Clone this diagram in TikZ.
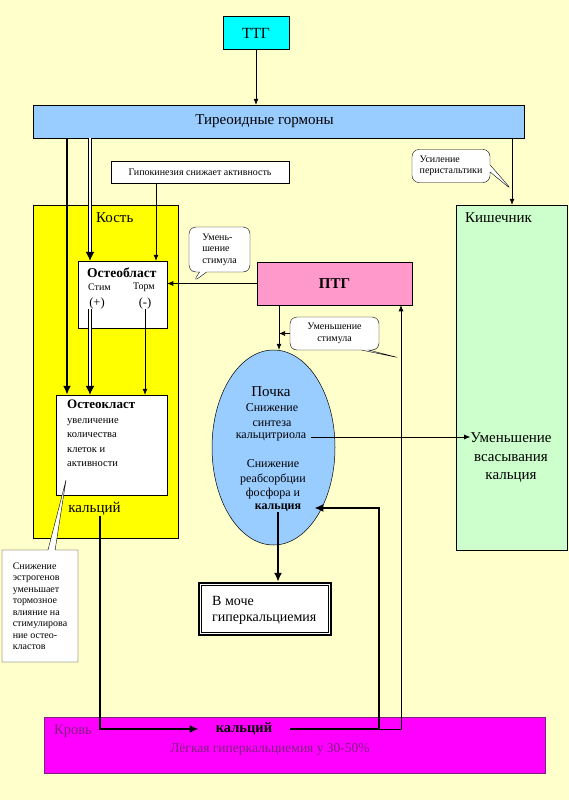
\documentclass[tikz,border=0pt]{standalone}
\usepackage{fontspec}
\setmainfont{Liberation Serif}
\usetikzlibrary{shapes.geometric,shapes.callouts,arrows.meta}

\definecolor{bgyellow}{RGB}{255,255,204}
\definecolor{ttgcyan}{RGB}{0,255,255}
\definecolor{hormblue}{RGB}{153,204,255}
\definecolor{boneyellow}{RGB}{255,255,0}
\definecolor{gutgreen}{RGB}{204,255,204}
\definecolor{ptgpink}{RGB}{255,153,204}
\definecolor{bloodmag}{RGB}{255,0,255}
\definecolor{bloodtext}{RGB}{130,30,130}

\newcommand{\fs}[2]{\fontsize{#1}{#2}\selectfont}

\begin{document}
\begin{tikzpicture}[x=1pt,y=-1pt,
    panel/.style={draw, line width=0.5pt, inner sep=0pt},
    lbl/.style={inner sep=0pt, font=\fs{15}{17}},
    note/.style={rectangle callout, draw, fill=white, rounded corners=7pt,
      inner sep=2pt, font=\fs{10}{11.5}},
    arr/.style={-{Latex[length=6pt,width=5pt]}, line width=0.6pt},
    bigarr/.style={-{Latex[length=9pt,width=8pt]}, line width=2.4pt},
    dblarr/.style={double, double distance=1.6pt, line width=1pt,
      -{Latex[length=9pt,width=9pt]}}]
                % background sheet
                \fill[bgyellow] (0,0) rectangle (569,800);

                % top: TTG and thyroid hormones
                \node[panel, fill=ttgcyan, minimum width=66pt, minimum height=33pt, font=\fs{15.5}{17}] (ttg) at (256,33) {ТТГ};
                \node[panel, fill=hormblue, minimum width=491pt, minimum height=33pt] (horm) at (278.5,121.5) {};
                \node[lbl] (hormname) at (264.5,121) {Тиреоидные гормоны};
                \node[panel, fill=white, minimum width=178pt, minimum height=22pt, font=\fs{10}{12}] (hypo) at (200,172) {Гипокинезия снижает активность};

                % bone and intestine
                \node[panel, fill=boneyellow, minimum width=145pt, minimum height=333pt] (bone) at (105.5,371.5) {};
                \node[lbl, anchor=west] (bonename) at (96,218) {Кость};
                \node[panel, fill=gutgreen, minimum width=111pt, minimum height=345pt] (gut) at (512,377.5) {};
                \node[lbl, anchor=west] (gutname) at (465,218) {Кишечник};
                \node[lbl, align=center, font=\fs{15}{18.5}] (gutabs) at (511,458) {Уменьшение\\всасывания\\кальция};

                % osteoblast
                \node[panel, fill=white, minimum width=89pt, minimum height=67pt] (oblast) at (122.5,294.5) {};
                \node[lbl, anchor=west, font=\bfseries\fs{13.5}{15}] (oblastname) at (87,273) {Остеобласт};
                \node[lbl, anchor=west, font=\fs{10}{11}] (stim) at (88,287) {Стим};
                \node[lbl, anchor=west, font=\fs{10}{11}] (torm) at (133,287) {Торм};
                \node[lbl, font=\fs{12.5}{13}] (plus) at (97,303) {(+)};
                \node[lbl, font=\fs{12.5}{13}] (minus) at (145,303) {(-)};

                % osteoclast
                \node[panel, fill=white, minimum width=111pt, minimum height=100pt] (oclast) at (111.5,445) {};
                \node[lbl, anchor=north west, align=left, font=\fs{10.5}{14.5}] (oclasttext) at (67,400) {{\bfseries\fs{13}{14.5}Остеокласт}\\увеличение\\количества\\клеток и\\активности};
                \node[lbl] (bonecal) at (94.5,509) {кальций};

                % PTG
                \node[panel, fill=ptgpink, minimum width=155pt, minimum height=43pt, font=\bfseries\fs{15}{17}] (ptg) at (334.5,283.5) {ПТГ};

                % kidney
                \node[ellipse, draw, line width=0.5pt, fill=hormblue, minimum width=123pt, minimum height=195pt, inner sep=0pt] (kidney) at (273.5,447.5) {};
                \node[lbl, font=\fs{15}{17}] (kname) at (271,392) {Почка};
                \node[lbl, align=center, font=\fs{12}{14.5}] (ksynth) at (272,415) {Снижение\\синтеза};
                \node[lbl, font=\fs{12}{14.5}] (kcalc) at (271,437) {кальцитриола};
                \node[lbl, align=center, font=\fs{12}{14.5}] (kreab) at (273,479.5) {Снижение\\реабсорбции\\фосфора и};
                \node[lbl, font=\bfseries\fs{12}{14.5}] (kcal) at (278,508) {кальция};

                % urine
                \node[panel, fill=white, line width=2.4pt, minimum width=132pt, minimum height=52pt] (urine) at (265,609) {};
                \draw[line width=0.5pt] ([shift={(3.5,3.5)}]urine.north west) rectangle ([shift={(-3.5,-3.5)}]urine.south east);
                \node[lbl, anchor=west, align=left, font=\fs{14}{16}] (urinetext) at (212,610) {В моче\\гиперкальциемия};

                % blood
                \node[panel, draw=bloodtext, fill=bloodmag, minimum width=501pt, minimum height=56pt] (blood) at (294.5,745) {};
                \node[lbl, anchor=west, text=bloodtext, font=\fs{14.5}{16}] (bloodname) at (54,731) {Кровь};
                \node[lbl, font=\bfseries\fs{14.5}{16}] (bloodcal) at (244,729) {кальций};
                \node[lbl, text=bloodtext, font=\fs{13.5}{15}] (bloodhyper) at (270,749) {Лёгкая гиперкальциемия у 30-50\%};

                % callouts
                \node[note, align=left, minimum width=61pt, minimum height=45pt, callout absolute pointer={(193,282)}] (stimnote1) at (219.5,249.5) {Умень-\\шение\\стимула};
                \node[note, align=center, minimum width=89pt, minimum height=33pt, callout absolute pointer={(400,358)}] (stimnote2) at (334.5,333.5) {Уменьшение\\стимула};
                \node[note, align=left, minimum width=78pt, minimum height=33pt, callout absolute pointer={(512,190)}] (peristnote) at (451,166) {Усиление\\перистальтики};
                \node[rectangle callout, draw, fill=white, align=left, font=\fs{10}{11.5}, minimum width=76pt, minimum height=112pt, callout absolute pointer={(66,480)}] (estro) at (40,606) {Снижение\\эстрогенов\\уменьшает\\тормозное\\влияние на\\стимулирова\\ние остео-\\кластов};

                % helper columns for the vertical connectors
                \coordinate (tx) at (67,0);
                \coordinate (dx) at (90,0);
                \coordinate (hx) at (156,0);
                \coordinate (kx) at (279,0);
                \coordinate (bcx) at (100,0);
                \coordinate (rx) at (379,0);
                \coordinate (px) at (401,0);

                % connectors
                \draw[arr] (ttg.south) -- (ttg.south |- horm.north);
                \draw[bigarr] (horm.south -| tx) -- (oclast.north -| tx);
                \draw[dblarr] (horm.south -| dx) -- (oblast.north -| dx);
                \draw[dblarr] (plus.south -| dx) -- (oclast.north -| dx);
                \draw[arr] (minus.south) -- (minus.south |- oclast.north);
                \draw[arr] (hypo.south -| hx) -- (oblast.north -| hx);
                \draw[arr] (horm.south -| gut.north) -- (gut.north);
                \draw[arr] (ptg.west) -- (ptg.west -| oblast.east);
                \draw[arr] (ptg.south -| kx) -- (kidney.north -| kx);
                \draw[arr] (stimnote2.west) -- (stimnote2.west -| kx);
                \draw[arr] ([xshift=5pt]kcalc.east) -- (kcalc.east -| gutabs.west);
                \draw[bigarr] (kcal.south) -- (kcal.south |- urine.north);
                \draw[bigarr] (bonecal.south -| bcx) |- ([xshift=-17pt]bloodcal.west);
                \draw[bigarr] ([xshift=18pt]bloodcal.east) -| (kcal.east -| rx) -- ([xshift=13pt]kcal.east);
                \draw[arr] (bloodcal.east -| rx) -| (ptg.south -| px);
\end{tikzpicture}
\end{document}
